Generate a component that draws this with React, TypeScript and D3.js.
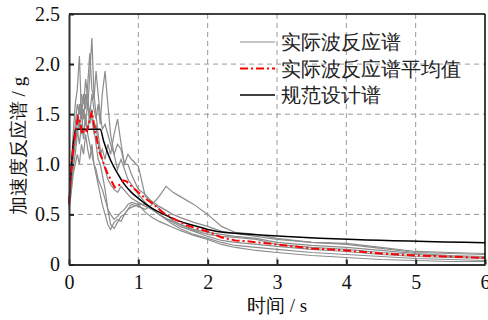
import React, { useEffect, useRef } from "react";
import * as d3 from "d3";

// period grid (s) shared by all measured spectra
const periods = [0, 0.03, 0.06, 0.09, 0.12, 0.15, 0.18, 0.21, 0.24, 0.27, 0.3, 0.33, 0.36, 0.39, 0.42, 0.45, 0.48, 0.52, 0.56, 0.6, 0.65, 0.7, 0.75, 0.8, 0.85, 0.9, 1.0, 1.1, 1.2, 1.3, 1.4, 1.5, 1.6, 1.8, 2.0, 2.2, 2.4, 2.7, 3.0, 3.5, 4.0, 4.5, 5.0, 5.5, 6.0];

const wave1 = [0.6, 0.9, 1.2, 1.3, 1.5, 1.35, 1.6, 1.45, 1.7, 1.55, 1.9, 2.26, 1.7, 1.5, 1.3, 1.15, 1.05, 0.95, 0.85, 0.8, 0.75, 0.72, 0.78, 0.74, 0.7, 0.66, 0.62, 0.58, 0.55, 0.5, 0.46, 0.42, 0.38, 0.33, 0.28, 0.24, 0.22, 0.2, 0.18, 0.15, 0.13, 0.1, 0.08, 0.07, 0.06];
const wave2 = [0.6, 0.95, 1.3, 1.6, 1.75, 2.08, 1.5, 1.3, 1.45, 1.6, 1.4, 1.55, 1.35, 1.2, 1.05, 1.0, 0.9, 0.75, 0.55, 0.4, 0.36, 0.42, 0.48, 0.5, 0.55, 0.57, 0.6, 0.6, 0.55, 0.5, 0.45, 0.4, 0.36, 0.3, 0.26, 0.22, 0.19, 0.17, 0.15, 0.12, 0.1, 0.08, 0.06, 0.05, 0.04];
const wave3 = [0.62, 0.85, 1.1, 1.25, 1.4, 1.6, 1.45, 1.7, 1.55, 1.8, 2.11, 1.75, 1.65, 1.93, 1.7, 1.5, 1.35, 1.4, 1.3, 1.2, 1.1, 1.2, 1.15, 1.0, 1.1, 1.05, 0.98, 0.68, 0.63, 0.58, 0.54, 0.5, 0.47, 0.42, 0.38, 0.33, 0.31, 0.28, 0.25, 0.22, 0.2, 0.16, 0.12, 0.11, 0.1];
const wave4 = [0.58, 0.8, 1.05, 1.2, 1.35, 1.2, 1.4, 1.25, 1.5, 1.3, 1.2, 1.1, 1.0, 0.9, 0.8, 0.7, 0.6, 0.5, 0.4, 0.35, 0.42, 0.45, 0.43, 0.5, 0.55, 0.6, 0.58, 0.55, 0.6, 0.68, 0.78, 0.72, 0.68, 0.6, 0.5, 0.38, 0.32, 0.3, 0.26, 0.22, 0.21, 0.17, 0.13, 0.12, 0.11];
const wave5 = [0.6, 0.75, 0.95, 1.1, 1.3, 1.45, 1.3, 1.55, 1.4, 1.35, 1.5, 1.45, 1.3, 1.4, 1.2, 1.1, 1.15, 1.05, 1.2, 1.1, 1.3, 1.45, 1.21, 1.0, 1.0, 0.9, 0.75, 0.7, 0.62, 0.56, 0.5, 0.44, 0.4, 0.34, 0.3, 0.28, 0.27, 0.25, 0.2, 0.17, 0.15, 0.12, 0.1, 0.08, 0.07];
const wave6 = [0.55, 0.7, 0.9, 1.0, 1.1, 1.0, 1.2, 1.1, 1.3, 1.15, 1.05, 1.2, 1.0, 0.95, 0.85, 0.8, 0.75, 0.65, 0.55, 0.5, 0.45, 0.48, 0.52, 0.55, 0.6, 0.62, 0.6, 0.52, 0.47, 0.43, 0.4, 0.37, 0.34, 0.29, 0.25, 0.2, 0.17, 0.14, 0.12, 0.09, 0.07, 0.05, 0.04, 0.03, 0.03];
const wave7 = [0.63, 0.9, 1.1, 1.4, 1.6, 1.5, 1.7, 1.6, 1.85, 1.65, 1.5, 1.7, 1.55, 1.45, 1.6, 1.4, 1.7, 1.93, 1.6, 1.3, 1.1, 0.95, 1.05, 0.95, 0.85, 0.8, 0.7, 0.62, 0.55, 0.5, 0.46, 0.43, 0.4, 0.35, 0.32, 0.3, 0.28, 0.26, 0.22, 0.19, 0.17, 0.14, 0.11, 0.09, 0.08];
const waves = [wave1, wave2, wave3, wave4, wave5, wave6, wave7];

// mean of measured spectra
const meanT = [0, 0.03, 0.06, 0.1, 0.13, 0.16, 0.19, 0.22, 0.26, 0.3, 0.33, 0.36, 0.4, 0.44, 0.48, 0.52, 0.56, 0.6, 0.66, 0.72, 0.78, 0.83, 0.9, 1.0, 1.1, 1.22, 1.35, 1.5, 1.7, 2.0, 2.2, 2.4, 2.6, 3.0, 3.5, 4.0, 4.5, 5.0, 5.5, 6.0];
const meanV = [0.6, 0.9, 1.15, 1.35, 1.47, 1.42, 1.3, 1.35, 1.33, 1.45, 1.53, 1.4, 1.25, 1.12, 1.05, 0.97, 0.9, 0.85, 0.77, 0.79, 0.84, 0.83, 0.78, 0.72, 0.66, 0.6, 0.52, 0.46, 0.39, 0.33, 0.27, 0.24, 0.23, 0.2, 0.16, 0.14, 0.11, 0.09, 0.08, 0.065];

// code design spectrum
const designT = [0, 0.1, 0.45, 0.5, 0.6, 0.7, 0.8, 0.9, 1.0, 1.2, 1.4, 1.6, 1.8, 2.0, 2.25, 6.0];
const designV = [0.61, 1.35, 1.35, 1.23, 1.04, 0.91, 0.8, 0.72, 0.66, 0.56, 0.49, 0.43, 0.39, 0.35, 0.32, 0.216];

const xTicks = [0, 1, 2, 3, 4, 5, 6];
const yTicks = [0, 0.5, 1.0, 1.5, 2.0, 2.5];
const legendLabels = ["实际波反应谱", "实际波反应谱平均值", "规范设计谱"];

const App: React.FC = () => {
  const svgRef = useRef<SVGSVGElement | null>(null);

  useEffect(() => {
    const svg = d3.select(svgRef.current);
    svg.selectAll("*").remove();

    const m = { left: 69, right: 485, top: 14, bottom: 264.5 };
    const serif = "'Liberation Serif', 'Times New Roman', serif";

    const x = d3.scaleLinear().domain([0, 6]).range([m.left, m.right]);
    const y = d3.scaleLinear().domain([0, 2.5]).range([m.bottom, m.top]);

    // grid
    svg.append("g").selectAll("line")
      .data(xTicks.slice(1, -1))
      .enter().append("line")
      .attr("x1", d => x(d)).attr("x2", d => x(d))
      .attr("y1", m.top).attr("y2", m.bottom)
      .attr("stroke", "#999").attr("stroke-dasharray", "5,4");
    svg.append("g").selectAll("line")
      .data(yTicks.slice(1, -1))
      .enter().append("line")
      .attr("y1", d => y(d)).attr("y2", d => y(d))
      .attr("x1", m.left).attr("x2", m.right)
      .attr("stroke", "#999").attr("stroke-dasharray", "5,4");

    const line = d3.line<[number, number]>()
      .x(d => x(d[0]))
      .y(d => y(d[1]));

    // measured spectra
    waves.forEach(w => {
      svg.append("path")
        .datum(periods.map((t, i) => [t, w[i]] as [number, number]))
        .attr("fill", "none")
        .attr("stroke", "#8c8c8c")
        .attr("stroke-width", 1.2)
        .attr("d", line);
    });

    // design spectrum
    svg.append("path")
      .datum(designT.map((t, i) => [t, designV[i]] as [number, number]))
      .attr("fill", "none")
      .attr("stroke", "#000")
      .attr("stroke-width", 1.5)
      .attr("d", line.curve(d3.curveMonotoneX));
    line.curve(d3.curveLinear);

    // mean
    svg.append("path")
      .datum(meanT.map((t, i) => [t, meanV[i]] as [number, number]))
      .attr("fill", "none")
      .attr("stroke", "#ff0000")
      .attr("stroke-width", 2)
      .attr("stroke-dasharray", "8,3,2,3")
      .attr("d", line);

    // frame
    svg.append("line")
      .attr("x1", m.left).attr("x2", m.right).attr("y1", m.top).attr("y2", m.top)
      .attr("stroke", "#000").attr("stroke-width", 1.5);
    svg.append("line")
      .attr("x1", m.right).attr("x2", m.right).attr("y1", m.top).attr("y2", m.bottom)
      .attr("stroke", "#000").attr("stroke-width", 1.5);

    // axes (inward ticks)
    const xAxis = svg.append("g")
      .attr("transform", `translate(0, ${m.bottom})`)
      .call(d3.axisBottom(x).tickValues(xTicks).tickFormat(d3.format("d")).tickSizeInner(-5).tickSizeOuter(0).tickPadding(10));
    xAxis.attr("font-family", serif).attr("font-size", 20);
    xAxis.select(".domain").attr("stroke", "#333").attr("stroke-width", 2);
    xAxis.selectAll("line").attr("stroke", "#222").attr("stroke-width", 2);
    xAxis.selectAll("text").attr("fill", "#111");

    const yAxis = svg.append("g")
      .attr("transform", `translate(${m.left}, 0)`)
      .call(d3.axisLeft(y).tickValues(yTicks).tickFormat(d => (d === 0 ? "0" : d3.format(".1f")(d as number))).tickSizeInner(-5).tickSizeOuter(0).tickPadding(9));
    yAxis.attr("font-family", serif).attr("font-size", 20);
    yAxis.select(".domain").attr("stroke", "#333").attr("stroke-width", 2);
    yAxis.selectAll("line").attr("stroke", "#222").attr("stroke-width", 2);
    yAxis.selectAll("text").attr("fill", "#111");

    // axis titles
    svg.append("text")
      .attr("x", 277).attr("y", 312)
      .attr("font-size", 19).attr("font-family", serif).attr("fill", "#111")
      .attr("text-anchor", "middle")
      .text("时间 / s");
    svg.append("text")
      .attr("transform", "translate(25, 146) rotate(-90)")
      .attr("font-size", 19).attr("font-family", serif).attr("fill", "#111")
      .attr("text-anchor", "middle")
      .text("加速度反应谱 / g");

    // legend
    const legendStyles = [
      { stroke: "#8c8c8c", width: 1.2, dash: null },
      { stroke: "#ff0000", width: 2, dash: "8,3,2,3" },
      { stroke: "#000", width: 1.5, dash: null },
    ];
    const legend = svg.append("g").attr("transform", "translate(240, 42)");
    legendLabels.forEach((lab, i) => {
      const row = legend.append("g").attr("transform", `translate(0, ${i * 26.5})`);
      row.append("line")
        .attr("x1", 0).attr("x2", 35)
        .attr("stroke", legendStyles[i].stroke)
        .attr("stroke-width", legendStyles[i].width)
        .attr("stroke-dasharray", legendStyles[i].dash);
      row.append("text")
        .attr("x", 41).attr("y", 7)
        .attr("font-size", 20).attr("font-family", serif).attr("fill", "#222")
        .text(lab);
    });
  }, []);

  return (
    <div style={{ position: "absolute", left: 0, top: 0, width: 488, height: 320, background: "#fff" }}>
      <svg ref={svgRef} width={488} height={320}></svg>
    </div>
  );
};

export default App;
